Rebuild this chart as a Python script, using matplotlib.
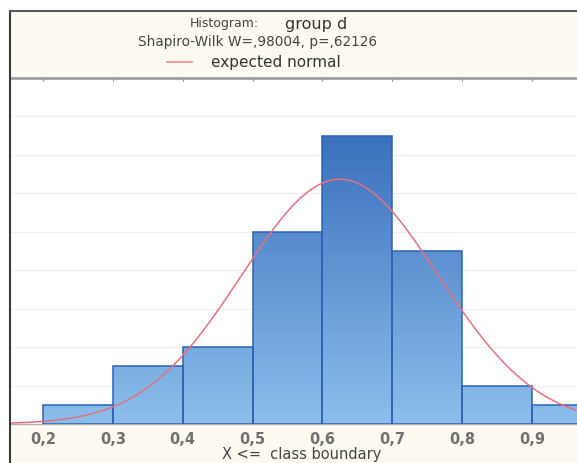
import numpy as np
import matplotlib.pyplot as plt
from matplotlib.colors import LinearSegmentedColormap
from matplotlib.patches import Rectangle
from matplotlib.lines import Line2D

# class boundaries (left edges) and counts
bin_left = [0.2, 0.3, 0.4, 0.5, 0.6, 0.7, 0.8, 0.9]
counts = [1, 3, 4, 10, 15, 9, 2, 1]
tick_vals = [0.2, 0.3, 0.4, 0.5, 0.6, 0.7, 0.8, 0.9]
tick_labels = ["0,2", "0,3", "0,4", "0,5", "0,6", "0,7", "0,8", "0,9"]

# expected normal parameters
mean_x = 0.625
sd_x = 0.141
bin_w = 0.1

W, H = 577, 463
fig = plt.figure(figsize=(W / 100, H / 100), dpi=100)
fig.patch.set_facecolor("white")

def fx(px):
    return px / W

def fy(py):
    return 1 - py / H

cream = "#fdfbf1"
# header and footer panels
fig.patches.append(Rectangle((fx(10), fy(78)), 1, fy(11) - fy(78), transform=fig.transFigure,
                             facecolor=cream, edgecolor="none", zorder=-2))
fig.patches.append(Rectangle((fx(10), 0), 1, fy(424), transform=fig.transFigure,
                             facecolor=cream, edgecolor="none", zorder=-2))
# outer frame
fig.lines.append(Line2D([fx(10), fx(10)], [0, fy(11)], transform=fig.transFigure, color="#3a3a3a", lw=1.5))
fig.lines.append(Line2D([fx(10), 1], [fy(11), fy(11)], transform=fig.transFigure, color="#5a5a5a", lw=1.5))

ax = fig.add_axes([fx(10), fy(424), 1 - fx(10), fy(78) - fy(424)])
ax.set_zorder(1)
ax.set_facecolor("white")

for g in range(2, 18, 2):
    ax.axhline(g, color="#f0f0f0", lw=0.9, zorder=0)

cmap = LinearSegmentedColormap.from_list("blu", ["#8cbfeb", "#3368b9"])
grad = np.linspace(0, 1, 256).reshape(-1, 1)
for xl, c in zip(bin_left, counts):
    r = Rectangle((xl, 0), bin_w, c, facecolor="none", edgecolor="#2b62b5", lw=1.1, zorder=3)
    ax.add_patch(r)
    im = ax.imshow(grad, cmap=cmap, origin="lower", aspect="auto",
                   extent=[0.1528, 0.9644, 0, 16.5], zorder=2, interpolation="bilinear")
    im.set_clip_path(r)

ax.set_xlim(0.1528, 0.9644)
ax.set_ylim(0, 18)

xs = np.linspace(0.1528, 0.9644, 400)
ys = sum(counts) * bin_w / (sd_x * np.sqrt(2 * np.pi)) * np.exp(-0.5 * ((xs - mean_x) / sd_x) ** 2)
ax.plot(xs, ys, color="#e3717f", lw=1.1, zorder=4)

ax.set_xticks(tick_vals)
ax.set_xticklabels(tick_labels, fontsize=10.5, color="#707070", fontweight="semibold", family="DejaVu Sans")
ax.tick_params(axis="x", direction="in", length=2, color="#888888", pad=6, top=True)
ax.set_yticks([])
for s in ["left", "right"]:
    ax.spines[s].set_visible(False)
ax.spines["top"].set_color("#a0a0a0")
ax.spines["top"].set_linewidth(2)
ax.spines["bottom"].set_color("#b0b0b0")
ax.spines["bottom"].set_linewidth(1)
fig.text(fx(302), fy(455), "X <=  class boundary", ha="center", va="center", fontsize=10.5,
         color="#444444", family="DejaVu Sans")

fig.text(fx(190), fy(24), "Histogram:", ha="left", va="center", fontsize=9,
         color="#444444", family="DejaVu Sans")
fig.text(fx(347), fy(24), "group d", ha="right", va="center", fontsize=11.5,
         color="#333333", family="DejaVu Sans")
fig.text(fx(258), fy(42), "Shapiro-Wilk W=,98004, p=,62126", ha="center", va="center", fontsize=9.8,
         color="#444444", family="DejaVu Sans")
fig.lines.append(Line2D([fx(167), fx(192)], [fy(62), fy(62)], transform=fig.transFigure, color="#f08a94", lw=1.2))
fig.text(fx(211), fy(62), "expected normal", ha="left", va="center", fontsize=11,
         color="#333333", family="DejaVu Sans")

fig.savefig("out.png", dpi=100)
